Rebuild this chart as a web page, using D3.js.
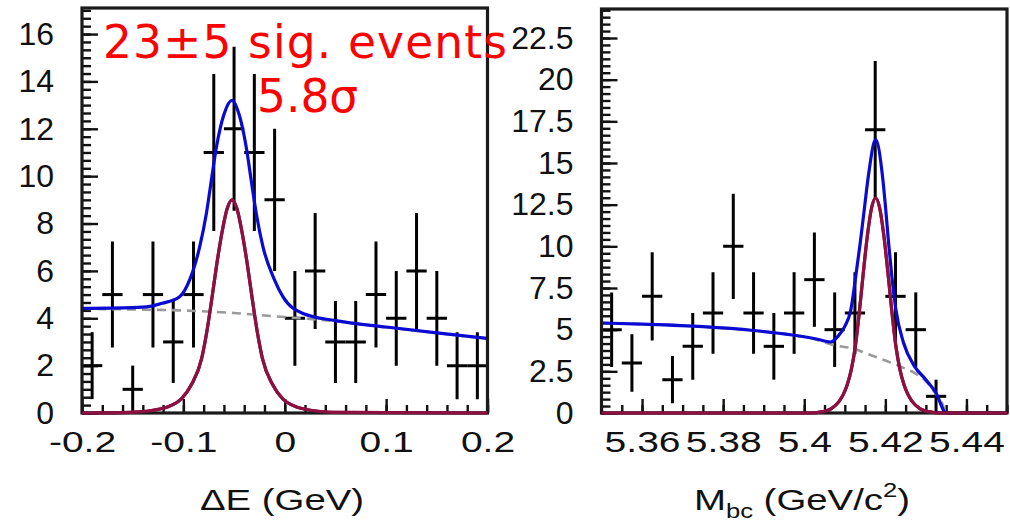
<!DOCTYPE html>
<html><head><meta charset="utf-8">
<script src="https://cdn.jsdelivr.net/npm/d3@7"></script>
<style>body{margin:0;background:#fff;} svg{display:block;}</style>
</head><body>
<svg id="chart" width="1010" height="524"></svg>
<script>
// ---------- Left panel: Delta E ----------
const dEBins   = [-0.19,-0.17,-0.15,-0.13,-0.11,-0.09,-0.07,-0.05,-0.03,-0.01,0.01,0.03,0.05,0.07,0.09,0.11,0.13,0.15,0.17,0.19];
const dECounts = [2,5,1,5,3,5,11,12,11,9,4,6,3,3,5,4,6,4,2,2];
const dEXTicks = [-0.2,-0.1,0,0.1,0.2];
const dEYTicks = [0,2,4,6,8,10,12,14,16];
// fit curves
const dESigX = [-0.2,-0.152,-0.122,-0.102,-0.092,-0.082,-0.077,-0.072,-0.067,-0.062,-0.057,-0.052,-0.047,-0.042,-0.037,-0.032,-0.027,-0.022,-0.012,-0.002,0.018,0.048,0.2];
const dESigY = [0,0.03,0.18,0.6,1.2,2.3,3.4,4.8,6.3,7.6,8.6,9.0,8.6,7.6,6.3,4.8,3.4,2.3,1.2,0.6,0.18,0.03,0];
const dETotX = [-0.2,-0.15,-0.133,-0.122,-0.104,-0.094,-0.084,-0.0774,-0.0725,-0.0675,-0.060,-0.052,-0.045,-0.0379,-0.033,-0.028,-0.0214,-0.0099,-0.0017,0.018,0.05,0.1,0.15,0.2];
const dETotY = [4.42,4.45,4.5,4.62,4.9,5.6,7.0,8.4,9.8,11.2,12.6,13.2,12.6,11.2,9.8,8.4,7.0,5.6,4.9,4.2,3.9,3.63,3.38,3.15];
const dEBkgX = [-0.2,-0.15,-0.1,-0.05,0,0.05,0.1,0.15,0.2];
const dEBkgY = [4.4,4.37,4.33,4.22,4.05,3.88,3.62,3.38,3.13];

// ---------- Right panel: Mbc ----------
const mbcBins   = [5.3525,5.3575,5.3625,5.3675,5.3725,5.3775,5.3825,5.3875,5.3925,5.3975,5.4025,5.4075,5.4125,5.4175,5.4225,5.4275,5.4325,5.4375,5.4425,5.4475];
const mbcCounts = [5,3,7,2,4,6,10,6,4,6,8,5,6,17,7,5,1,0,0,0];
const mbcXTicks = [5.36,5.38,5.4,5.42,5.44];
const mbcYTicks = [0,2.5,5,7.5,10,12.5,15,17.5,20,22.5];
const mbcSigX = [5.35,5.4016,5.4046,5.4066,5.4086,5.4096,5.4106,5.4116,5.4126,5.4136,5.4146,5.4156,5.4166,5.4176,5.4186,5.4196,5.4206,5.4216,5.4226,5.4236,5.4246,5.4256,5.4266,5.4286,5.4306,5.4336,5.45];
const mbcSigY = [0,0,0.08,0.25,0.7,1.1,1.7,2.6,4.0,6.1,8.5,10.7,12.3,12.9,12.3,10.7,8.5,6.1,4.0,2.6,1.7,1.1,0.7,0.25,0.08,0,0];
const mbcTotX = [5.35,5.36,5.375,5.3875,5.397,5.403,5.4065,5.4083,5.41,5.4115,5.4127,5.4138,5.4148,5.4158,5.4176,5.4193,5.4201,5.4208,5.4216,5.4226,5.4245,5.4272,5.43,5.4325,5.435,5.45];
const mbcTotY = [5.4,5.33,5.18,4.95,4.68,4.44,4.26,4.6,5.2,6.2,8.2,10.2,12.2,14.2,16.4,14.2,12.2,10.2,8.2,6.2,4.2,2.8,2.0,1.2,0,0];
const mbcBkgX = [5.35,5.36,5.375,5.3875,5.397,5.403,5.4065,5.41,5.412,5.415,5.42,5.425,5.4276,5.43,5.432,5.434,5.435,5.45];
const mbcBkgY = [5.4,5.33,5.18,4.95,4.68,4.4,4.12,3.96,3.88,3.6,3.15,2.65,2.35,1.9,1.3,0.6,0,0];

const svg = d3.select('#chart');

function panel(cfg){
  const {x0,x1,yTop,yBot,xDom,yMax,bins,counts,binW,xTicks,xMinorStep,yTicks,yMinorStep,curves,id} = cfg;
  const x = d3.scaleLinear().domain(xDom).range([x0,x1]);
  const y = d3.scaleLinear().domain([0,yMax]).range([yBot,yTop]);
  const g = svg.append('g');

  g.append('clipPath').attr('id',id).append('rect')
    .attr('x',x0).attr('y',yTop).attr('width',x1-x0).attr('height',yBot-yTop+3);

  // minor ticks
  const xMinor = d3.range(xDom[0], xDom[1]+1e-9, xMinorStep);
  const yMinor = d3.range(0, yMax, yMinorStep);
  const ax = (sel)=>{ sel.select('.domain').remove(); sel.selectAll('line').attr('stroke','#111').attr('stroke-width',2.4); };

  g.append('g').attr('transform',`translate(0,${yBot})`)
    .call(d3.axisBottom(x).tickValues(xMinor).tickSize(-8).tickFormat('')).call(ax);
  g.append('g').attr('transform',`translate(${x0},0)`)
    .call(d3.axisLeft(y).tickValues(yMinor).tickSize(-9).tickFormat('')).call(ax);

  const gx = g.append('g').attr('transform',`translate(0,${yBot})`)
    .call(d3.axisBottom(x).tickValues(xTicks).tickSize(-14).tickPadding(18).tickFormat(d=>String(d))).call(ax);
  gx.selectAll('text').attr('font-family','"Liberation Sans", Arial, sans-serif')
    .attr('font-size',30).attr('fill','#111').attr('dy','0.71em')
    .attr('transform','scale(1.3,1)');

  const gy = g.append('g').attr('transform',`translate(${x0},0)`)
    .call(d3.axisLeft(y).tickValues(yTicks).tickSize(-16).tickPadding(28).tickFormat(d=>String(d))).call(ax);
  gy.selectAll('text').attr('font-family','"Liberation Sans", Arial, sans-serif')
    .attr('font-size',32).attr('fill','#111');

  // data points with Poisson error bars
  const pts = bins.map((b,i)=>({b, n:counts[i]})).filter(d=>d.n>0);
  const gp = g.append('g').attr('stroke','#000').attr('stroke-width',3).attr('clip-path',`url(#${id})`);
  pts.forEach(d=>{
    const e = Math.sqrt(d.n);
    gp.append('line').attr('x1',x(d.b)).attr('x2',x(d.b)).attr('y1',y(d.n+e)).attr('y2',y(Math.max(0,d.n-e)));
    gp.append('line').attr('x1',x(d.b-binW/2)).attr('x2',x(d.b+binW/2)).attr('y1',y(d.n)).attr('y2',y(d.n));
  });

  // curves
  const gc = g.append('g').attr('clip-path',`url(#${id})`).attr('fill','none');
  curves.forEach(c=>{
    const line = d3.line().x((d,i)=>x(c.xs[i])).y(d=>y(d)).curve(d3.curveMonotoneX);
    gc.append('path').attr('d',line(c.ys)).attr('stroke',c.color).attr('stroke-width',c.w)
      .attr('stroke-dasharray',c.dash||null).attr('stroke-linejoin','round');
  });

  // frame
  g.append('rect').attr('x',x0).attr('y',yTop).attr('width',x1-x0).attr('height',yBot-yTop)
    .attr('fill','none').attr('stroke','#1a1a1a').attr('stroke-width',3.2);
  // signal curve again on top of the bottom frame line
  const sig = curves[curves.length-1];
  g.append('path').attr('clip-path',`url(#${id})`).attr('fill','none')
    .attr('d', d3.line().x((d,i)=>x(sig.xs[i])).y(d=>y(d)).curve(d3.curveMonotoneX)(sig.ys))
    .attr('stroke',sig.color).attr('stroke-width',sig.w);
  return {x,y,g};
}

const BLUE = '#0a0ad2', MAROON = '#8c1040', GRAY = '#9a9a9a';

panel({id:'clipL', x0:82, x1:487.5, yTop:8, yBot:413, xDom:[-0.2,0.2], yMax:17.1,
  bins:dEBins, counts:dECounts, binW:0.02, xTicks:dEXTicks, xMinorStep:0.02, yTicks:dEYTicks, yMinorStep:2/6,
  curves:[
    {xs:dEBkgX, ys:dEBkgY, color:GRAY, w:2.6, dash:'9,6'},
    {xs:dETotX, ys:dETotY, color:BLUE, w:3.2},
    {xs:dESigX, ys:dESigY, color:MAROON, w:3.2}
  ]});

panel({id:'clipR', x0:601.5, x1:1007, yTop:9, yBot:413, xDom:[5.35,5.45], yMax:24.24,
  bins:mbcBins, counts:mbcCounts, binW:0.005, xTicks:mbcXTicks, xMinorStep:0.005, yTicks:mbcYTicks, yMinorStep:2.5/6,
  curves:[
    {xs:mbcBkgX, ys:mbcBkgY, color:GRAY, w:2.6, dash:'9,6'},
    {xs:mbcTotX, ys:mbcTotY, color:BLUE, w:3.2},
    {xs:mbcSigX, ys:mbcSigY, color:MAROON, w:3.2}
  ]});

// axis titles
const tf = '"Liberation Sans", Arial, sans-serif';
svg.append('text').attr('transform','translate(282,510) scale(1.28,1)')
  .attr('text-anchor','middle').attr('font-family',tf).attr('font-size',30).attr('fill','#111')
  .text('ΔE (GeV)');
const mt = svg.append('text').attr('transform','translate(802,510) scale(1.28,1)')
  .attr('text-anchor','middle').attr('font-family',tf).attr('font-size',30).attr('fill','#111');
mt.append('tspan').text('M');
mt.append('tspan').attr('font-size',20).attr('dy',8).text('bc');
mt.append('tspan').attr('dy',-8).text(' (GeV/c');
mt.append('tspan').attr('font-size',20).attr('dy',-13).text('2');
mt.append('tspan').attr('dy',13).text(')');

// red annotation
const rf = '"DejaVu Sans", sans-serif';
svg.append('text').attr('x',103).attr('y',58).attr('font-family',rf).attr('font-size',45.5).attr('fill','#ff0000')
  .attr('textLength',404).attr('lengthAdjust','spacing')
  .text('23±5 sig. events');
svg.append('text').attr('x',257).attr('y',112).attr('font-family',rf).attr('font-size',45.5).attr('fill','#ff0000')
  .text('5.8σ');
</script>
</body></html>
